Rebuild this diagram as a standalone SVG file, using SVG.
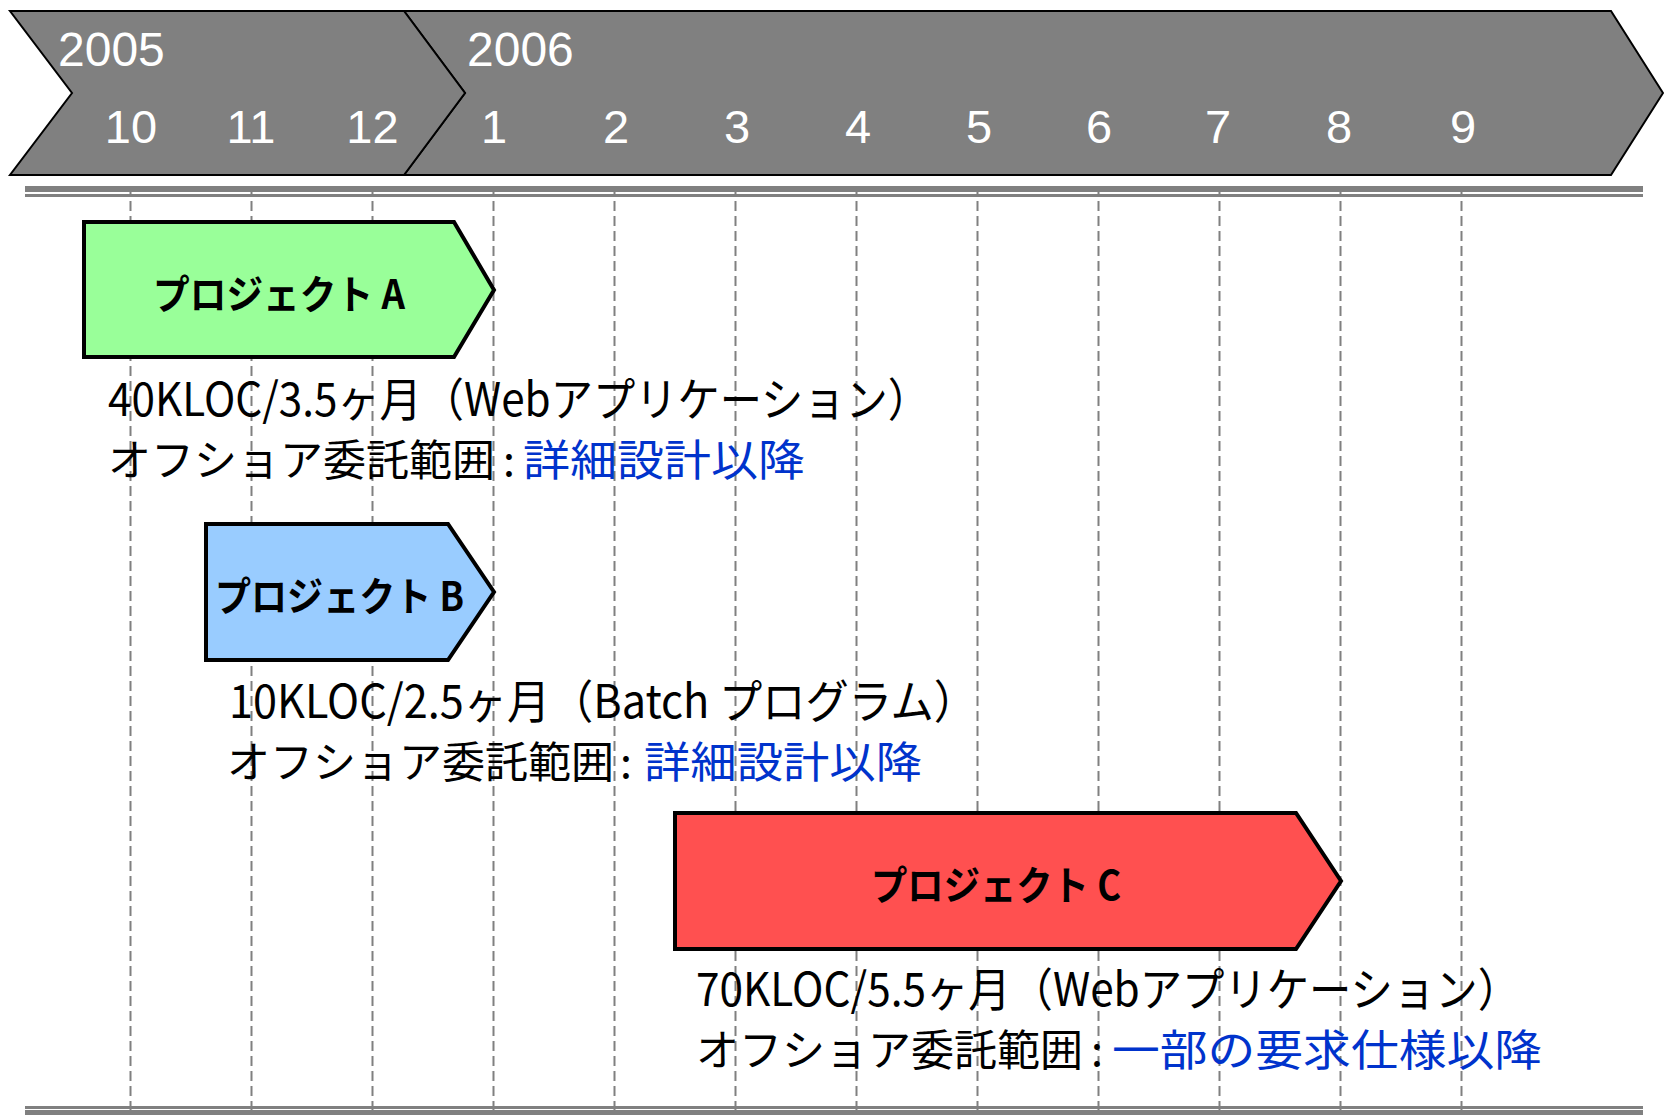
<svg xmlns="http://www.w3.org/2000/svg" width="1664" height="1115" viewBox="0 0 1664 1115">
<style>
.tl{fill:#808080;stroke:#000;stroke-width:2;stroke-linejoin:miter}
.yr{font-family:"Liberation Sans",Arial,sans-serif;font-size:48px;fill:#fff}
.mo{font-family:"Liberation Sans",Arial,sans-serif;font-size:47px;fill:#fff;text-anchor:middle}
.grid{stroke:#808080;stroke-width:2;stroke-dasharray:10 5;fill:none}
.rule{fill:#808080}
.proj{stroke:#000;stroke-width:4;stroke-linejoin:miter}
.pl{font-family:"Noto Sans CJK JP","Noto Sans CJK SC",sans-serif;font-weight:bold;font-size:40px;fill:#000}
.d{font-family:"Noto Sans CJK JP","Noto Sans CJK SC",sans-serif;font-size:46px;fill:#000}
.k2{font-size:43px}
.b{fill:#0033CC;font-size:43.5px}
</style>
<rect width="1664" height="1115" fill="#fff"/>
<g id="timeline">
<path class="tl" d="M404,11 L1611,11 L1663,93 L1611,175 L404,175 L465,93 Z"/>
<path class="tl" d="M10,11 L404,11 L465,93 L404,175 L10,175 L72,93 Z"/>
<text class="yr" x="58" y="66">2005</text>
<text class="yr" x="467" y="66">2006</text>
<text class="mo" x="131" y="143">10</text>
<text class="mo" x="251" y="143">11</text>
<text class="mo" x="372.5" y="143">12</text>
<text class="mo" x="494" y="143">1</text>
<text class="mo" x="616" y="143">2</text>
<text class="mo" x="737" y="143">3</text>
<text class="mo" x="858" y="143">4</text>
<text class="mo" x="979" y="143">5</text>
<text class="mo" x="1099" y="143">6</text>
<text class="mo" x="1218" y="143">7</text>
<text class="mo" x="1339" y="143">8</text>
<text class="mo" x="1463" y="143">9</text>
</g>
<g id="rules">
<rect class="rule" x="25" y="186" width="1618" height="6"/>
<rect class="rule" x="25" y="194" width="1618" height="3"/>
<rect class="rule" x="25" y="1106" width="1618" height="3"/>
<rect class="rule" x="25" y="1110" width="1618" height="5"/>
</g>
<g id="connectors">
<line class="grid" x1="130.5" y1="186" x2="130.5" y2="1115"/>
<line class="grid" x1="251.5" y1="186" x2="251.5" y2="1115"/>
<line class="grid" x1="372.5" y1="186" x2="372.5" y2="1115"/>
<line class="grid" x1="493.5" y1="186" x2="493.5" y2="1115"/>
<line class="grid" x1="614.5" y1="186" x2="614.5" y2="1115"/>
<line class="grid" x1="735.5" y1="186" x2="735.5" y2="1115"/>
<line class="grid" x1="856.5" y1="186" x2="856.5" y2="1115"/>
<line class="grid" x1="977.5" y1="186" x2="977.5" y2="1115"/>
<line class="grid" x1="1098.5" y1="186" x2="1098.5" y2="1115"/>
<line class="grid" x1="1219.5" y1="186" x2="1219.5" y2="1115"/>
<line class="grid" x1="1340.5" y1="186" x2="1340.5" y2="1115"/>
<line class="grid" x1="1461.5" y1="186" x2="1461.5" y2="1115"/>
</g>
<g id="projectA">
<path class="proj" fill="#99FF99" d="M84,222 L454,222 L494,290 L454,357 L84,357 Z"/>
<text class="pl" x="153" y="309" textLength="252" lengthAdjust="spacingAndGlyphs">プロジェクト A</text>
<text class="d" x="108" y="416" textLength="822" lengthAdjust="spacingAndGlyphs">40KLOC/3.5ヶ月（Webアプリケーション）</text>
<text class="d k2" x="108" y="476" dx="0 0 0 0 0 0 0 0 0 8">オフショア委託範囲:</text>
<text class="d b" x="523" y="476" textLength="282" lengthAdjust="spacingAndGlyphs">詳細設計以降</text>
</g>
<g id="projectB">
<path class="proj" fill="#99CCFF" d="M206,524 L448,524 L494,592 L448,660 L206,660 Z"/>
<text class="pl" x="215" y="611" textLength="249" lengthAdjust="spacingAndGlyphs">プロジェクト B</text>
<text class="d" x="229" y="718" textLength="748" lengthAdjust="spacingAndGlyphs">10KLOC/2.5ヶ月（Batch プログラム）</text>
<text class="d k2" x="227" y="778" dx="0 0 0 0 0 0 0 0 0 6">オフショア委託範囲:</text>
<text class="d b" x="644" y="778" textLength="278" lengthAdjust="spacingAndGlyphs">詳細設計以降</text>
</g>
<g id="projectC">
<path class="proj" fill="#FF5050" d="M675,813 L1296,813 L1341,881 L1296,949 L675,949 Z"/>
<text class="pl" x="871" y="900" textLength="250" lengthAdjust="spacingAndGlyphs">プロジェクト C</text>
<text class="d" x="696" y="1006" textLength="824" lengthAdjust="spacingAndGlyphs">70KLOC/5.5ヶ月（Webアプリケーション）</text>
<text class="d k2" x="696" y="1066" dx="0 0 0 0 0 0 0 0 0 8">オフショア委託範囲:</text>
<text class="d b" x="1112" y="1066" textLength="430" lengthAdjust="spacingAndGlyphs">一部の要求仕様以降</text>
</g>
</svg>
